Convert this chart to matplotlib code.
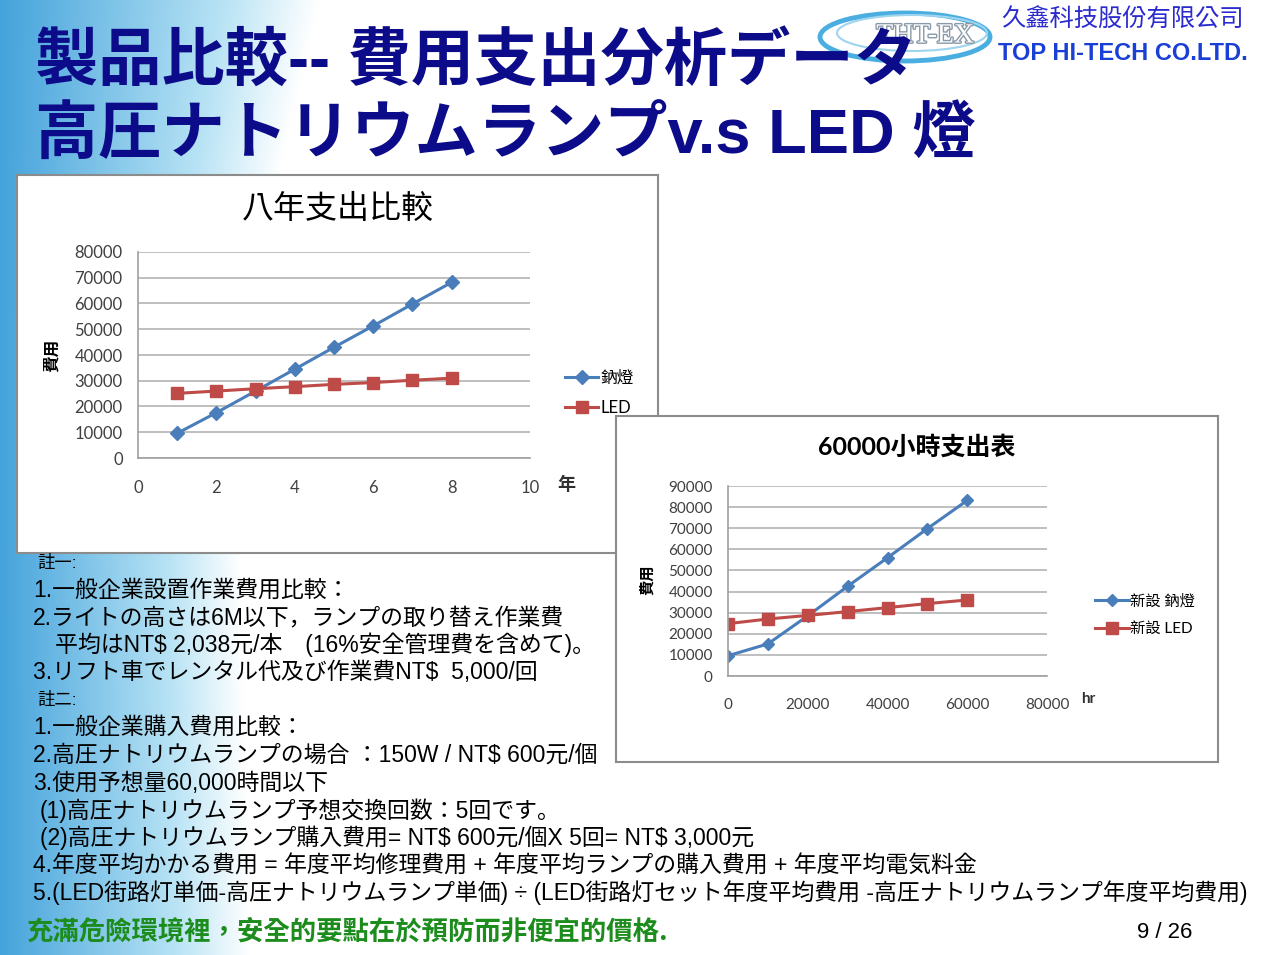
import matplotlib
matplotlib.use('Agg')
import matplotlib.pyplot as plt
from matplotlib.patches import Ellipse
import matplotlib.patheffects as pe
import numpy as np

W, H = 1268, 955

# chart 1: eight-year expenses
years = [1, 2, 3, 4, 5, 6, 7, 8]
sodium_8yr = [9600, 17600, 26000, 34500, 43000, 51300, 59800, 68200]
led_8yr = [25100, 26000, 26900, 27700, 28600, 29300, 30200, 31000]

# chart 2: 60000 hour expenses
hours = [0, 10000, 20000, 30000, 40000, 50000, 60000]
sodium_60k = [9600, 15200, 28500, 42500, 56000, 69800, 83200]
led_60k = [24800, 27000, 28700, 30500, 32400, 34300, 36000]

labels_8yr = ['鈉燈', 'LED']
labels_60k = ['新設 鈉燈', '新設 LED']

BLUE = '#4a7ebb'
RED = '#be4b48'
NAVY = '#0c0c8a'
TICK = '#404040'

TC = ['Lato', 'Noto Sans CJK TC']
JP = ['Liberation Sans', 'Noto Sans CJK JP']


def fx(x):
    return x / W


def fy(y):
    return 1 - y / H


def rect(l, t, r, b):
    return [l / W, 1 - b / H, (r - l) / W, (b - t) / H]


fig = plt.figure(figsize=(W / 100, H / 100), dpi=100)

# blue slide background on the left
bg = fig.add_axes([0, 0, 1, 1], zorder=-10)
yy, xx = np.mgrid[0:H, 0:W]
edge = np.interp(yy, [0, 170, 560, 955], [320, 280, 240, 250])
t = np.clip(xx / edge, 0, 1)
blue = np.array([0.27, 0.64, 0.86])
light = np.array([0.72, 0.89, 0.96])
k = np.clip(t / 0.7, 0, 1)[..., None]
col = blue * (1 - k) + light * k
w = np.clip((t - 0.7) / 0.3, 0, 1)[..., None]
col = col * (1 - w) + w
bg.imshow(col, extent=[0, W, H, 0], aspect='auto')
bg.set_xlim(0, W)
bg.set_ylim(H, 0)
bg.axis('off')

# logo
logo = fig.add_axes([0, 0, 1, 1], zorder=-5)
logo.set_xlim(0, W)
logo.set_ylim(H, 0)
logo.axis('off')
logo.add_patch(Ellipse((905, 37), 170, 48, fill=False, ec='#4aaee0', lw=3.5))
logo.add_patch(Ellipse((912, 33), 150, 36, fill=False, ec='#9fd4ef', lw=1.5))
logo.text(925, 36, 'THT-EX', fontsize=20, family='Liberation Serif', color='white',
          ha='center', va='center',
          path_effects=[pe.withStroke(linewidth=2, foreground='#8a9aa8')])
logo.text(1122, 20, '久鑫科技股份有限公司', fontsize=17.5, family='Noto Sans CJK TC',
          color='#2a2acf', ha='center', va='center')
logo.text(1123, 53, 'TOP HI-TECH CO.LTD.', fontsize=17, family='Liberation Sans',
          weight='bold', color='#1a3fd6', ha='center', va='center')

# slide title
fig.text(fx(35), fy(62), '製品比較-- 費用支出分析データ', fontsize=45.5,
         family=JP, weight='bold', color=NAVY, va='center', zorder=6)
fig.text(fx(35), fy(137), '高圧ナトリウムランプv.s LED 燈', fontsize=45.5,
         family=JP, weight='bold', color=NAVY, va='center', zorder=6)

# ---- chart 1 ----
panel1 = fig.add_axes(rect(17, 175, 658, 553), zorder=1)
panel1.set_xticks([])
panel1.set_yticks([])
for s in panel1.spines.values():
    s.set_color('#8c8c8c')
    s.set_linewidth(1.5)

ax1 = fig.add_axes(rect(138, 252, 530, 458), zorder=2)
ax1.plot(years, sodium_8yr, color=BLUE, lw=2.2, marker='D', ms=7, label=labels_8yr[0])
ax1.plot(years, led_8yr, color=RED, lw=2.2, marker='s', ms=9, label=labels_8yr[1])
ax1.set_xlim(0, 10)
ax1.set_ylim(0, 80000)
ax1.set_xticks(range(0, 11, 2))
ax1.set_yticks(range(0, 80001, 10000))
ax1.set_facecolor('none')
ax1.grid(axis='y', color='#b4b4b4', lw=1.2)
ax1.set_axisbelow(True)
for s in ['top', 'right']:
    ax1.spines[s].set_visible(False)
for s in ['left', 'bottom']:
    ax1.spines[s].set_color('#a0a0a0')
    ax1.spines[s].set_linewidth(1.2)
ax1.tick_params(axis='x', length=0, pad=16, labelsize=12, labelcolor=TICK)
ax1.tick_params(axis='y', length=0, pad=11, labelsize=12, labelcolor=TICK)
for lab in ax1.get_xticklabels() + ax1.get_yticklabels():
    lab.set_family('Lato')
ax1.text(fx(338), fy(209), '八年支出比較', transform=fig.transFigure, fontsize=23,
         family=TC, ha='center', va='center', color='black')
ax1.text(fx(52), fy(355), '費用', transform=fig.transFigure, fontsize=12,
         family=TC, weight='bold', rotation=90, ha='center', va='center')
ax1.text(fx(566), fy(484), '年', transform=fig.transFigure, fontsize=13,
         family=TC, weight='bold', ha='center', va='center', color='#303030')
ax1.legend(loc='center left', bbox_to_anchor=(fx(565), fy(393)),
           bbox_transform=fig.transFigure, frameon=False, borderpad=0,
           borderaxespad=0, handlelength=2.0, handletextpad=0.1,
           labelspacing=0.85, prop={'family': TC, 'size': 12})

# ---- chart 2 ----
panel2 = fig.add_axes(rect(616, 416, 1218, 762), zorder=3)
panel2.set_xticks([])
panel2.set_yticks([])
for s in panel2.spines.values():
    s.set_color('#8c8c8c')
    s.set_linewidth(1.5)

ax2 = fig.add_axes(rect(728, 486, 1047, 676), zorder=4)
ax2.plot(hours, sodium_60k, color=BLUE, lw=2.2, marker='D', ms=6.5, label=labels_60k[0])
ax2.plot(hours, led_60k, color=RED, lw=2.2, marker='s', ms=8.5, label=labels_60k[1])
ax2.set_xlim(0, 80000)
ax2.set_ylim(0, 90000)
ax2.set_xticks(range(0, 80001, 20000))
ax2.set_yticks(range(0, 90001, 10000))
ax2.set_facecolor('none')
ax2.grid(axis='y', color='#b4b4b4', lw=1.2)
ax2.set_axisbelow(True)
for s in ['top', 'right']:
    ax2.spines[s].set_visible(False)
for s in ['left', 'bottom']:
    ax2.spines[s].set_color('#a0a0a0')
    ax2.spines[s].set_linewidth(1.2)
ax2.tick_params(axis='x', length=0, pad=16, labelsize=11, labelcolor=TICK)
ax2.tick_params(axis='y', length=0, pad=11, labelsize=11, labelcolor=TICK)
for lab in ax2.get_xticklabels() + ax2.get_yticklabels():
    lab.set_family('Lato')
ax2.text(fx(917), fy(447), '60000小時支出表', transform=fig.transFigure, fontsize=18,
         family=TC, weight='bold', ha='center', va='center', color='black')
ax2.text(fx(648), fy(580), '費用', transform=fig.transFigure, fontsize=11,
         family=TC, weight='bold', rotation=90, ha='center', va='center')
ax2.text(fx(1088), fy(699), 'hr', transform=fig.transFigure, fontsize=11,
         family=TC, weight='bold', ha='center', va='center', color='#303030')
ax2.legend(loc='center left', bbox_to_anchor=(fx(1095), fy(615)),
           bbox_transform=fig.transFigure, frameon=False, borderpad=0,
           borderaxespad=0, handlelength=2.2, handletextpad=0.1,
           labelspacing=0.9, prop={'family': TC, 'size': 11})

# ---- notes ----
notes = [
    (37, 563, '註一:', 12.5),
    (33, 590, '1.一般企業設置作業費用比較：', 16.5),
    (33, 618, '2.ライトの高さは6M以下，ランプの取り替え作業費', 16.5),
    (55, 645, '平均はNT$ 2,038元/本　(16%安全管理費を含めて)。', 16.5),
    (33, 673, '3.リフト車でレンタル代及び作業費NT$  5,000/回', 16.5),
    (37, 700, '註二:', 12.5),
    (33, 727, '1.一般企業購入費用比較：', 16.5),
    (33, 755, '2.高圧ナトリウムランプの場合 ：150W / NT$ 600元/個', 16.5),
    (33, 783, '3.使用予想量60,000時間以下', 16.5),
    (40, 811, '(1)高圧ナトリウムランプ予想交換回数：5回です。', 16.5),
    (40, 838, '(2)高圧ナトリウムランプ購入費用= NT$ 600元/個X 5回= NT$ 3,000元', 16.5),
    (33, 866, '4.年度平均かかる費用 = 年度平均修理費用 + 年度平均ランプの購入費用 + 年度平均電気料金', 16.5),
    (33, 893, '5.(LED街路灯単価-高圧ナトリウムランプ単価) ÷ (LED街路灯セット年度平均費用 -高圧ナトリウムランプ年度平均費用)', 16.5),
]
for x, y, txt, size in notes:
    fig.text(fx(x), fy(y), txt, fontsize=size, family=JP, color='black',
             va='center', ha='left', zorder=6, parse_math=False)

fig.text(fx(27), fy(932), '充滿危險環境裡，安全的要點在於預防而非便宜的價格.', fontsize=19,
         family=['Noto Sans CJK TC'], weight='bold', color='#1c8c1c',
         va='center', ha='left', zorder=6)
fig.text(fx(1165), fy(932), '9 / 26', fontsize=16, family='Liberation Sans',
         color='black', va='center', ha='center', zorder=6)

fig.savefig('out.png', dpi=100)
